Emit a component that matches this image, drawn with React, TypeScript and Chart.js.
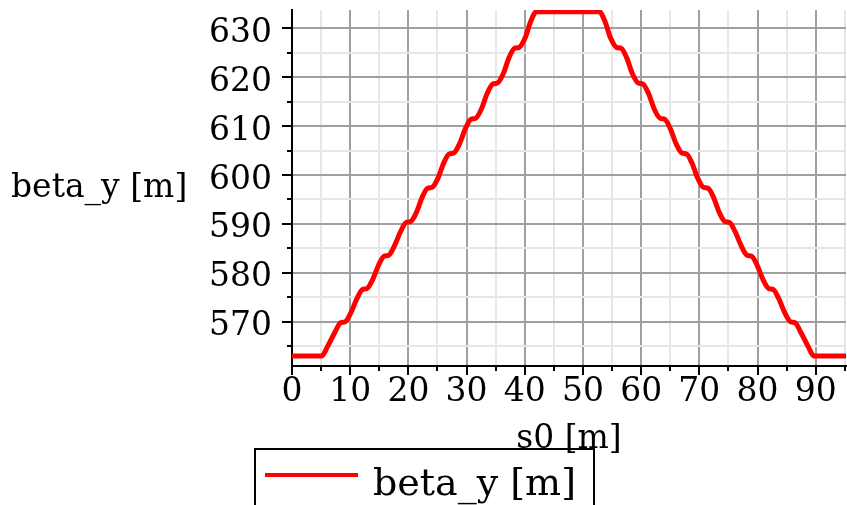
import React, { useEffect, useRef } from 'react';
import { Chart, registerables } from 'chart.js';

Chart.register(...registerables);

// s0 [m] positions
const sValues = [
  0, 5.1, 6.1, 7.4, 8.35, 9.15, 10.15, 11.15, 12.1, 12.9, 13.9, 14.85, 15.8, 16.6,
  17.6, 18.65, 19.6, 20.4, 21.4, 22.35, 23.3, 24.1, 25.1, 26.05, 27.0, 27.8, 28.8,
  29.8, 30.75, 31.55, 32.55, 33.55, 34.5, 35.3, 36.3, 37.3, 38.25, 39.05, 40.05,
  41.05, 42.0,
  52.8, 53.75, 54.75, 55.75, 56.55, 57.5, 58.5, 59.5, 60.3, 61.25, 62.25, 63.25,
  64.05, 65.0, 66.0, 67.0, 67.8, 68.75, 69.7, 70.7, 71.5, 72.45, 73.4, 74.4, 75.2,
  76.15, 77.2, 78.2, 79.0, 79.95, 80.9, 81.9, 82.7, 83.65, 84.65, 85.65, 86.45,
  87.4, 88.7, 89.7, 95.2,
];

// beta_y [m] values
const betaYValues = [
  563.0, 563.0, 564.9, 567.9, 569.8, 570.0, 571.9, 574.7, 576.6, 576.8, 578.7, 581.5,
  583.4, 583.6, 585.5, 588.4, 590.3, 590.5, 592.4, 595.4, 597.3, 597.5, 599.4, 602.4,
  604.3, 604.5, 606.4, 609.5, 611.4, 611.6, 613.5, 616.7, 618.6, 618.8, 620.7, 624.0,
  625.9, 626.1, 628.0, 631.5, 633.4,
  633.4, 631.5, 628.0, 626.1, 625.9, 624.0, 620.7, 618.8, 618.6, 616.7, 613.5, 611.6,
  611.4, 609.5, 606.4, 604.5, 604.3, 602.4, 599.4, 597.5, 597.3, 595.4, 592.4, 590.5,
  590.3, 588.4, 585.5, 583.6, 583.4, 581.5, 578.7, 576.8, 576.6, 574.7, 571.9, 570.0,
  569.8, 567.9, 564.9, 563.0, 563.0,
];

const xTickLabels = [0, 10, 20, 30, 40, 50, 60, 70, 80, 90];
const yTickLabels = [570, 580, 590, 600, 610, 620, 630];

const seriesLabel = 'beta_y [m]';
const xTitle = 's0 [m]';
const yTitle = 'beta_y [m]';

const X_MIN = 0;
const X_MAX = 95.2;
const Y_MIN = 560.94;
const Y_MAX = 633.74;

const FONT = '"DejaVu Serif", serif';
const MAJOR = '#a0a0a0';
const MINOR = '#e6e6e6';

const isMajorX = (v: number) => xTickLabels.includes(Math.round(v));
const isMajorY = (v: number) => yTickLabels.includes(Math.round(v));

const overlayPlugin = {
  id: 'overlay',
  afterDraw(chart: any) {
    const { ctx, chartArea, scales } = chart;
    const xs = scales.x;
    const ys = scales.y;
    ctx.save();
    // minor tick marks
    ctx.strokeStyle = '#000';
    ctx.lineWidth = 2;
    xs.ticks.forEach((t: any) => {
      if (!isMajorX(t.value)) {
        const px = Math.round(xs.getPixelForValue(t.value));
        ctx.beginPath();
        ctx.moveTo(px, chartArea.bottom);
        ctx.lineTo(px, chartArea.bottom + 5);
        ctx.stroke();
      }
    });
    ys.ticks.forEach((t: any) => {
      if (!isMajorY(t.value)) {
        const py = Math.round(ys.getPixelForValue(t.value));
        ctx.beginPath();
        ctx.moveTo(chartArea.left, py);
        ctx.lineTo(chartArea.left - 5, py);
        ctx.stroke();
      }
    });

    // axis titles
    ctx.fillStyle = '#000';
    ctx.font = `33px ${FONT}`;
    ctx.textBaseline = 'alphabetic';
    ctx.textAlign = 'left';
    ctx.fillText(yTitle, 11, 197);
    ctx.textAlign = 'center';
    ctx.fillText(xTitle, (chartArea.left + chartArea.right) / 2, 448);

    // legend box
    const ds = chart.data.datasets[0];
    ctx.lineWidth = 2;
    ctx.strokeStyle = '#000';
    ctx.strokeRect(255, 449, 339, 80);
    ctx.beginPath();
    ctx.strokeStyle = ds.borderColor;
    ctx.lineWidth = 4;
    ctx.moveTo(265, 475);
    ctx.lineTo(358, 475);
    ctx.stroke();
    ctx.font = `38px ${FONT}`;
    ctx.textAlign = 'left';
    ctx.fillStyle = '#000';
    ctx.fillText(ds.label, 373, 495);
    ctx.restore();
  },
};

export default function App() {
  const canvasRef = useRef<HTMLCanvasElement | null>(null);

  useEffect(() => {
    if (!canvasRef.current) return;
    const points = sValues.map((s, i) => ({ x: s, y: betaYValues[i] }));
    const chart = new Chart(canvasRef.current, {
      type: 'line',
      data: {
        datasets: [
          {
            label: seriesLabel,
            data: points,
            borderColor: '#ff0000',
            backgroundColor: '#ff0000',
            borderWidth: 5,
            pointRadius: 0,
            cubicInterpolationMode: 'monotone',
            fill: false,
          },
        ],
      },
      options: {
        responsive: false,
        animation: false,
        layout: { padding: { left: 0, right: 1, top: 10, bottom: 0 } },
        plugins: {
          legend: { display: false },
          tooltip: { enabled: false },
          title: { display: false },
        },
        scales: {
          x: {
            type: 'linear',
            min: X_MIN,
            max: X_MAX,
            afterFit: (scale: any) => {
              scale.height = 139;
              scale.paddingLeft = 0;
              scale.paddingRight = 0;
            },
            ticks: {
              stepSize: 5,
              includeBounds: false,
              autoSkip: false,
              maxRotation: 0,
              minRotation: 0,
              padding: -2,
              color: '#000',
              font: { family: FONT, size: 33 },
              callback: (v: any) => (isMajorX(Number(v)) ? String(Math.round(Number(v))) : ''),
            },
            grid: {
              color: (c: any) => (isMajorX(c.tick.value) ? MAJOR : MINOR),
              lineWidth: 2,
              drawTicks: true,
              tickLength: 9,
              tickWidth: 2,
              tickColor: (c: any) => (isMajorX(c.tick.value) ? '#000' : 'rgba(0,0,0,0)'),
            },
            border: { display: true, color: '#000', width: 2 },
          },
          y: {
            type: 'linear',
            min: Y_MIN,
            max: Y_MAX,
            afterFit: (scale: any) => {
              scale.width = 292;
              scale.paddingTop = 0;
              scale.paddingBottom = 0;
            },
            ticks: {
              stepSize: 5,
              includeBounds: false,
              autoSkip: false,
              padding: 10,
              labelOffset: 5,
              color: '#000',
              font: { family: FONT, size: 33 },
              callback: (v: any) => (isMajorY(Number(v)) ? String(Math.round(Number(v))) : ''),
            },
            grid: {
              color: (c: any) => (isMajorY(c.tick.value) ? MAJOR : MINOR),
              lineWidth: 2,
              drawTicks: true,
              tickLength: 10,
              tickWidth: 2,
              tickColor: (c: any) => (isMajorY(c.tick.value) ? '#000' : 'rgba(0,0,0,0)'),
            },
            border: { display: true, color: '#000', width: 2 },
          },
        },
      },
      plugins: [overlayPlugin],
    });
    return () => chart.destroy();
  }, []);

  return (
    <div style={{ position: 'absolute', left: 0, top: 0, width: 847, height: 505, background: '#fff' }}>
      <canvas ref={canvasRef} width={847} height={505} />
    </div>
  );
}
